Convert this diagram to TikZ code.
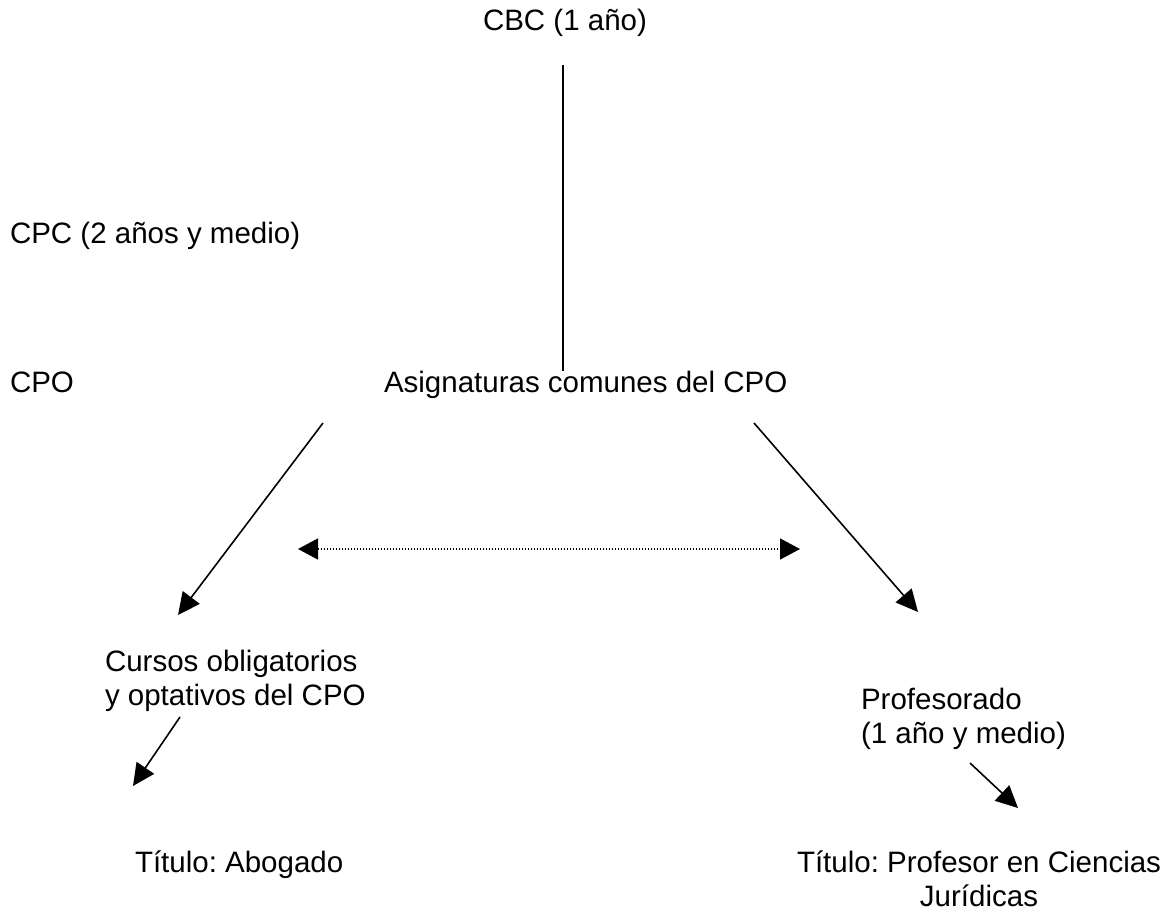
\documentclass[tikz,border=0pt]{standalone}
\usepackage{fontspec}
\setmainfont{Liberation Sans}
\usetikzlibrary{positioning}
\usetikzlibrary{arrows.meta}
\tikzset{
	every node/.style={anchor=base west,inner sep=0pt,outer sep=0pt,font=\fontsize{29.5}{34}\selectfont\frenchspacing},
	stage/.style={},
	twoline/.style={align=left},
	link/.style={line width=1.6pt},
	flow/.style={line width=1.6pt,-{Triangle[length=22pt,width=21pt]}},
	swap/.style={line width=1.5pt,dash pattern=on 1.5pt off 1.5pt,{Triangle[length=20pt,width=21pt]}-{Triangle[length=20pt,width=21pt]}}
}
\begin{document}
\begin{tikzpicture}[x=1pt,y=-1pt]
	\useasboundingbox (0,0) rectangle (1161,915);
	% Ciclos
	\node (cbc) [stage] at (483,31) {CBC (1 año)};
	\node (cpc) [stage] at (10,243) {CPC (2 años y medio)};
	\node (cpo) [stage] at (10,392) {CPO};
	\node (asig) [stage] at (384,392) {Asignaturas comunes del CPO};
	
	\node (cursos) [twoline] at (105,705) {Cursos obligatorios\\y optativos del CPO};
	\node (prof) [twoline] at (861,743) {Profesorado\\(1 año y medio)};
	
	\node (abog) at (135,872) {Título: Abogado};
	\node (profcj) [align=center] at (797,906) {Título: Profesor en Ciencias\\Jurídicas};
	
	% extremos de las flechas
	\coordinate (cbc-s) at (563,65);
	\coordinate (asig-n) at (563,371);
	\coordinate (asig-sw) at (323,423);
	\coordinate (asig-se) at (754,423);
	\coordinate (cursos-n) at (178,615);
	\coordinate (prof-n) at (918,612);
	\coordinate (dl) at (298,549);
	\coordinate (dr) at (800,549);
	\coordinate (cursos-s) at (180,717);
	\coordinate (abog-n) at (133,786);
	\coordinate (prof-s) at (970,763);
	\coordinate (profcj-n) at (1018,808);
	
	\draw[link] (cbc-s) -- (asig-n);
	\draw[flow] (asig-sw) -- (cursos-n);
	\draw[flow] (asig-se) -- (prof-n);
	\draw[swap] (dl) -- (dr);
	\draw[flow] (cursos-s) -- (abog-n);
	\draw[flow] (prof-s) -- (profcj-n);
	
\end{tikzpicture}
\end{document}
